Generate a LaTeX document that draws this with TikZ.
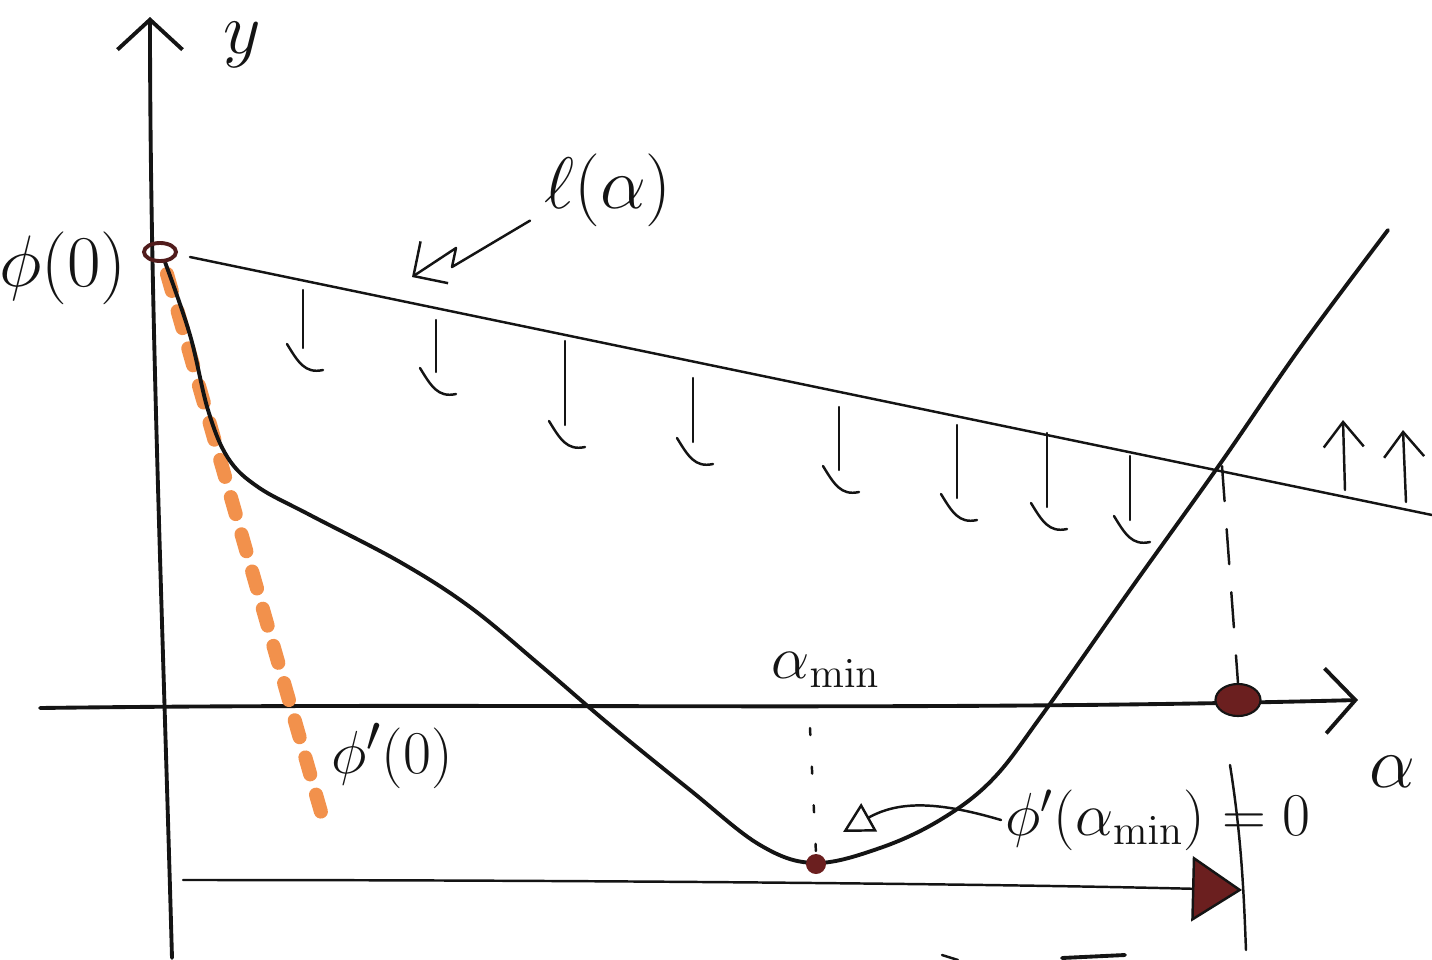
\documentclass[tikz,border=0pt]{standalone}
\usetikzlibrary{arrows.meta,shapes.geometric}
\definecolor{ink}{HTML}{141414}
\definecolor{marker}{HTML}{F2914C}
\definecolor{blot}{HTML}{6B1F1F}

\begin{document}
\begin{tikzpicture}[x=0.01cm, y=-0.01cm,
  pen/.style={draw=ink, line width=1.1pt, line cap=round, line join=round},
  fine/.style={draw=ink, line width=0.7pt, line cap=round, line join=round},
  barb/.style={-{Straight Barb[length=3mm, width=6.5mm]}},
  lbl/.style={text=ink, inner sep=1pt, font=\fontsize{20}{24}\selectfont},
  sml/.style={text=ink, inner sep=1pt, font=\fontsize{17}{20}\selectfont}
]
\useasboundingbox (0,0) rectangle (1432,960);

% axes
\coordinate (ybot) at (172,958);
\coordinate (ytop) at (150,17);
\coordinate (xleft) at (40,708);
\coordinate (xright) at (1358,700);
\draw[pen, barb] (ybot) .. controls (162,600) and (150,300) .. (ytop);
\draw[pen, barb] (xleft) .. controls (500,702) and (900,712) .. (xright);
\node[lbl] (ylab) at (242,45) {$y$};
\node[lbl] (alab) at (1392,772) {$\alpha$};

% tangent at zero, marker pen
\coordinate (tanstart) at (167,274);
\coordinate (tanend) at (321,812);
\draw[marker, line width=4pt, line cap=round, dash pattern=on 5pt off 6pt] (tanstart) -- (tanend);
\node[lbl, font=\fontsize{19}{22}\selectfont] (dphi0) at (392,756) {$\phi'(0)$};

% l(alpha)
\coordinate (lstart) at (190,257);
\coordinate (lend) at (1432,515);
\draw[fine] (lstart) -- (lend);
\node[lbl] (llab) at (608,190) {$\ell(\alpha)$};
\draw[fine, -{Straight Barb[length=2.5mm, width=5mm]}] ([xshift=-1mm, yshift=1mm]llab.south west) -- (452,267) -- (456,248) -- (412,277);

\foreach \x/\t/\b in {303/290/348, 436/320/372, 565/341/425, 693/378/442,
                      839/407/470, 957/425/498, 1047/433/507, 1130/456/520} {
  \draw[fine] (\x,\t) -- (\x,\b);
  \draw[fine] (\x-16,\b-4) .. controls (\x-5,\b+14) and (\x+2,\b+26) .. (\x+20,\b+22);
}
\draw[fine, -{Straight Barb[length=2.5mm, width=4mm]}] (1345,490) -- (1343,420);
\draw[fine, -{Straight Barb[length=2.5mm, width=4mm]}] (1406,502) -- (1403,430);

% phi
\draw[pen] plot[smooth, tension=0.6] coordinates {(165,262) (190,335) (208,410)
  (228,458) (258,487) (310,515) (400,562) (470,607) (540,665) (610,725) (690,790)
  (760,845) (815,863) (880,848) (940,820) (992,780) (1042,715) (1130,590)
  (1220,464) (1300,348) (1388,230)};

\node[ellipse, draw=blot!70!ink, line width=1.1pt, minimum width=3.2mm, minimum height=1.8mm, inner sep=0] (p0) at (160,252) {};
\node[lbl, font=\fontsize{22}{26}\selectfont] (phi0) at (63,268) {$\phi(0)$};

% zero of phi', minimum of phi
\coordinate (cut) at (1222,466);
\node[ellipse, fill=blot, draw=ink, line width=0.6pt, minimum width=4.5mm, minimum height=3.2mm, inner sep=0] (root) at (1238,700) {};
\draw[fine, dash pattern=on 10pt off 8pt] (cut) -- (root.north);

\node[circle, fill=blot, minimum size=2mm, inner sep=0] (minpt) at (816,864) {};
\node[sml] (amin) at (826,670) {$\alpha_{\min}$};
\coordinate (mintop) at (810,728);
\draw[fine, dash pattern=on 2pt off 9pt] (mintop) -- (minpt.north);

\node[sml] (dmin) at (1158,820) {$\phi'(\alpha_{\min}) = 0$};
\coordinate (mintip) at (843,832);
\draw[fine, -{Triangle[open, length=3mm, width=3.2mm]}] (dmin.west) .. controls (940,802) and (900,800) .. (mintip);

\coordinate (bartop) at (1230,765);
\coordinate (barbot) at (1246,950);
\draw[fine] (bartop) .. controls (1242,840) and (1244,900) .. (barbot);

\coordinate (runstart) at (183,880);
\coordinate (runend) at (1242,890);
\draw[fine, -{Triangle[length=5mm, width=6.5mm, fill=blot]}] (runstart) .. controls (600,880) and (1000,884) .. (runend);

\draw[fine] (942,955) -- (958,960);
\draw[pen] (1062,958) -- (1125,955);
\end{tikzpicture}
\end{document}
